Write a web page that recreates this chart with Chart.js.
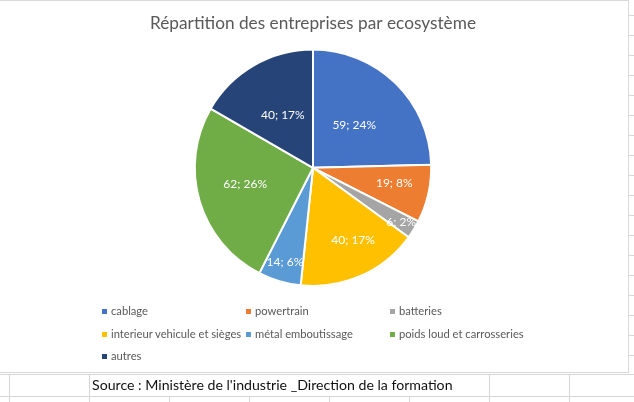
<!DOCTYPE html>
<html><head><meta charset="utf-8">
<script src="https://cdn.jsdelivr.net/npm/chart.js@4.4.1/dist/chart.umd.min.js"></script>
<style>
html,body{margin:0;padding:0;background:#fff;width:634px;height:402px;overflow:hidden;font-family:Lato,"Open Sans",sans-serif;}
#frame{position:absolute;left:-1px;top:0;width:630px;height:373px;border:1px solid #d9d9d9;box-sizing:border-box;background:#fff;}
#c{position:absolute;left:0;top:0;}
.h{position:absolute;height:1px;background:#d6d6d6;}
.v{position:absolute;width:1px;background:#d6d6d6;}
.lg{position:absolute;font-size:11.2px;color:#595959;white-space:nowrap;line-height:14px;}
.lg i{display:inline-block;width:5px;height:5px;margin-right:4px;vertical-align:1px;}
#src{position:absolute;left:92px;top:375px;font-size:14.15px;line-height:20px;color:#111;white-space:nowrap;}
</style></head>
<body>
<div id="grid"></div>
<div id="frame"></div>
<canvas id="c" width="628" height="372"></canvas>
<div id="legend"></div>
<div id="src">Source : Ministère de l'industrie _Direction de la formation</div>
<script>
const categories = ["cablage","powertrain","batteries","interieur vehicule et sièges","métal emboutissage","poids loud et carrosseries","autres"];
const counts = [59, 19, 6, 40, 14, 62, 40];
const percentLabels = [24, 8, 2, 17, 6, 26, 17];
const colors = ["#4472C4","#ED7D31","#A5A5A5","#FFC000","#5B9BD5","#70AD47","#264478"];
const labelRadiusFrac = [0.50, 0.70, 0.875, 0.70, 0.835, 0.59, 0.51];
const labelAngleShift = [0, -2, 0, -5, 0, 3, 0];

// spreadsheet grid (decorative)
const grid = document.getElementById('grid');
function addLine(cls, l, t, w, h){const d=document.createElement('div');d.className=cls;d.style.left=l+'px';d.style.top=t+'px';if(w)d.style.width=w+'px';if(h)d.style.height=h+'px';grid.appendChild(d);}
for(let y=15;y<=355;y+=20) addLine('h',629,y,5,0);
addLine('h',0,374,634,0);
addLine('h',0,396,634,0);
[9,89,489,569].forEach(x=>addLine('v',x,374,0,28));
[169,249,329,409].forEach(x=>addLine('v',x,396,0,6));

// legend
const lg = document.getElementById('legend');
categories.forEach((name,i)=>{
  const s=document.createElement('div');s.className='lg';
  s.style.left=(102+(i%3)*144)+'px';
  s.style.top=(304+Math.floor(i/3)*22.5)+'px';
  s.innerHTML='<i style="background:'+colors[i]+'"></i>'+name;
  lg.appendChild(s);
});

const labelPlugin = {
  id:'sliceLabels',
  afterDatasetsDraw(chart){
    const ctx=chart.ctx;
    const meta=chart.getDatasetMeta(0);
    ctx.save();
    ctx.fillStyle='#ffffff';
    ctx.font='12px Lato, "Open Sans", sans-serif';
    ctx.textAlign='center';ctx.textBaseline='middle';
    meta.data.forEach((arc,i)=>{
      const p=arc.getProps(['x','y','startAngle','endAngle','outerRadius'],true);
      const mid=(p.startAngle+p.endAngle)/2 + labelAngleShift[i]*Math.PI/180;
      const r=p.outerRadius*labelRadiusFrac[i];
      ctx.fillText(counts[i]+'; '+percentLabels[i]+'%', p.x+Math.cos(mid)*r, p.y+Math.sin(mid)*r);
    });
    ctx.restore();
  }
};

new Chart(document.getElementById('c'),{
  type:'pie',
  data:{labels:categories,datasets:[{data:counts,backgroundColor:colors,borderColor:'#ffffff',borderWidth:2}]},
  options:{
    responsive:false,animation:false,
    layout:{padding:{left:150,right:152,top:0,bottom:85}},
    plugins:{
      legend:{display:false},tooltip:{enabled:false},
      title:{display:true,text:'Répartition des entreprises par ecosystème',color:'#595959',
        font:{family:'Lato, "Open Sans", sans-serif',size:18,weight:'normal'},padding:{top:12,bottom:15}}
    }
  },
  plugins:[labelPlugin]
});
</script>
</body></html>
